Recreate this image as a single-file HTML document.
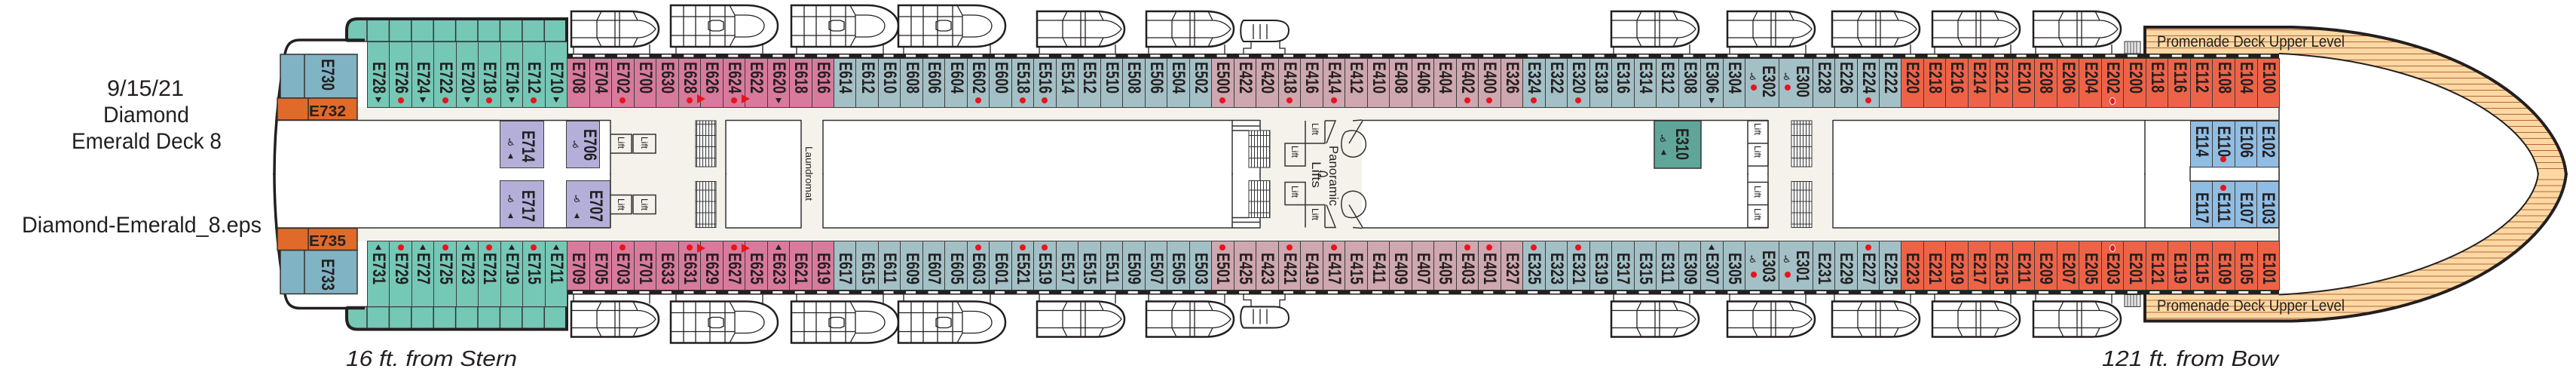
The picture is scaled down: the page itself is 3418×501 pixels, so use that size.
<!DOCTYPE html>
<html><head><meta charset="utf-8"><style>
body{margin:0;width:3418px;height:501px;background:#fff;position:relative;overflow:hidden;font-family:"Liberation Sans",sans-serif}
svg{position:absolute;left:0;top:0}
.r{position:absolute;display:flex;border:1.5px solid #3d3d3d;box-sizing:border-box}
.c{flex:1;position:relative;border-left:1.5px solid #3d3d3d}
.c:first-child{border-left:0}
.c i,.v{position:absolute;left:50%;top:4px;margin-left:-10px;display:block;writing-mode:vertical-rl;font:bold 20px/20px "Liberation Sans",sans-serif;font-style:normal;color:#231f20;transform:scale(1.18,.9);transform-origin:center top;white-space:nowrap}
.T .c i{top:26px}
.B .c i{top:15px}
.d{position:absolute;left:50%;margin-left:-4px;width:8px;height:8px;border-radius:50%;background:#e8141b;top:51px}
.T .d{top:73px}
.B .d{top:4px}
.t{position:absolute;left:50%;margin-left:-4px;top:52px;width:0;height:0;border-left:4px solid transparent;border-right:4px solid transparent;border-top:7px solid #231f20}
.T .t{top:73px}
.B .t{top:4px;border-top:0;border-bottom:7px solid #231f20}
.rt{position:absolute;right:-7px;top:47px;width:0;height:0;border-top:6px solid transparent;border-bottom:6px solid transparent;border-left:11px solid #e8141b;z-index:2}
.B .rt{top:3px}
.w{position:absolute;font:13px/13px "DejaVu Sans",sans-serif;color:#231f20}
.teal{background:#75c7b6}.pink{background:#d87a9c}.grey{background:#a3c0c6}.mauve{background:#cea7b0}.red{background:#ee6348}.blue{background:#90bde3}.purp{background:#b4afd9}
</style></head><body>
<svg width="3418" height="501" viewBox="0 0 3418 501">
<defs>
<pattern id="win" x="752" y="71" width="29.47" height="6" patternUnits="userSpaceOnUse"><rect width="29.47" height="6" fill="#231f20"/><rect x="8" y="1.5" width="13" height="3" fill="#fff"/></pattern>
<pattern id="pr" width="10" height="8" patternUnits="userSpaceOnUse"><rect width="10" height="8" fill="#fdd8a3"/><rect y="7" width="10" height="1" fill="#b0683a"/></pattern>
<pattern id="st" width="4" height="15" patternUnits="userSpaceOnUse"><rect width="4" height="15" fill="#fff"/><rect width="1" height="15" fill="#333"/><rect y="14" width="4" height="1" fill="#333"/></pattern>
<g id="lb" fill="none" stroke="#231f20" stroke-width="1.3">
<path d="M0,0 H78 C105,0 116,12 116,23.5 C116,35 105,47 78,47 H0 Z" fill="#fff" stroke-width="2.5"/>
<path d="M0,12 H34 M0,35 H34 M34,12 V35 M34,12 L40,0 M34,35 L40,47 M34,12 H88 C100,12 108,18 112,23.5 C108,29 100,35 88,35 H34 M58,0 V47 M64,0 V47 M82,0 L88,12 M82,47 L88,35 M3,47 V56 M104,44 V56"/>
</g>
<g id="tb" fill="none" stroke="#231f20" stroke-width="1.3">
<path d="M0,0 H100 C128,0 142,14 142,27 C142,42 128,55 100,55 H0 Z" fill="#fff" stroke-width="2.5"/>
<path d="M0,15 H85 M0,40 H85 M17,0 V55 M33,0 V55 M52,0 V55 M72,0 V55 M85,13 V42 M85,13 H100 C115,13 124,20 124,27 C124,35 115,42 100,42 H85 M78,0 L85,13 M78,55 L85,42 M50,22 L55,20 H65 L70,22 V32 L65,34 H55 L50,32 Z M7,55 V64 M122,50 V64"/>
</g>
</defs>
<g id="h">
<rect x="474" y="142" width="2550" height="17" fill="#f5f2ec"/>
<line x1="365" y1="159.5" x2="3024" y2="159.5" stroke="#333" stroke-width="1.5"/>
<rect x="810" y="142" width="153" height="90" fill="#f5f2ec"/>
<rect x="1063" y="142" width="29" height="90" fill="#f5f2ec"/>
<rect x="1672" y="142" width="135" height="90" fill="#f5f2ec"/>
<rect x="2346" y="142" width="86" height="90" fill="#f5f2ec"/>
<path d="M810,159 V232 M963,159 V232 M1063,159 V232 M1092,159 V232 M1635,159 V232 M1672,159 V232 M2319,159 V232 M2346,159 V232 M2432,159 V232 M2846,159 V232 M3024,77 V232" stroke="#333" stroke-width="1.5" fill="none"/>
<rect x="923" y="160" width="27" height="61" fill="url(#st)" stroke="#333"/>
<rect x="1657" y="173" width="28" height="49" fill="url(#st)" stroke="#333"/>
<rect x="2377" y="160" width="27" height="61" fill="url(#st)" stroke="#333"/>
<path d="M1635,167 H1672 M1635,173 H1657" stroke="#333" stroke-width="1.5"/>
<g fill="none" stroke="#333" stroke-width="1.5">
<path d="M810,178 H838 V203 H810 M840,178 H870 V203 H840 V178"/>
<path d="M1732,160 V190 H1758 V160 M1705,190 H1732 V220 H1705 Z M1758,160 L1772,160 L1760,190"/>
<path d="M2319,160 H2346 V190 H2319 M2319,190 H2346 V220 H2319"/>
<path d="M1795,160 L1807,159 M1808,160 L1790,190 M1785,175 C1800,168 1815,180 1812,195 C1808,210 1790,212 1782,202 C1778,192 1780,180 1785,175 Z M1750,228 C1758,226 1764,230 1760,232"/>
</g>
<path d="M752,25 H474 Q460,25 460,40 V55 H752 Z" fill="#75c7b6"/>
<path d="M487,25 V55 M516.4,25 V55 M545.8,25 V55 M575.2,25 V55 M604.6,25 V55 M634,25 V55 M663.4,25 V55 M692.8,25 V55 M722.2,25 V55 M460,55 H752" stroke="#333" stroke-width="1.5"/>
<path d="M460,55 V40 Q460,25 474,25 H752 V77" stroke="#231f20" stroke-width="4" fill="none"/>
<path d="M484,53 H398 C385,53 380,60 378,72 C368,130 364,180 364,232" stroke="#231f20" stroke-width="3.5" fill="none"/>
<rect x="372" y="72" width="102" height="58" fill="#80b3c3" stroke="#333" stroke-width="1.5"/>
<line x1="404" y1="72" x2="404" y2="130" stroke="#333" stroke-width="1.5"/>
<rect x="368" y="130" width="106" height="29" fill="#e06a2a" stroke="#333" stroke-width="1.5"/>
<line x1="409" y1="130" x2="409" y2="159" stroke="#333" stroke-width="1.5"/>
<rect x="752" y="71" width="2272" height="6" fill="url(#win)"/>
<use href="#lb" x="758" y="15"/>
<use href="#tb" x="890" y="7"/>
<use href="#tb" x="1050" y="7"/>
<use href="#tb" x="1192" y="7"/>
<use href="#lb" x="1376" y="15"/>
<use href="#lb" x="1521" y="15"/>
<g fill="#fff" stroke="#231f20" stroke-width="2">
<path d="M1650,27 H1690 C1705,27 1710,33 1710,40 C1710,48 1705,55 1690,55 H1650 C1645,50 1645,32 1650,27 Z"/>
<path d="M1663,32 V52 M1672,32 V52 M1681,32 V52 M1660,55 V64 H1650 V71 M1698,55 V64 H1705 V71" fill="none" stroke-width="1.3"/>
</g>
<use href="#lb" x="2138" y="15"/>
<use href="#lb" x="2292" y="15"/>
<use href="#lb" x="2431" y="15"/>
<use href="#lb" x="2564" y="15"/>
<use href="#lb" x="2698" y="15"/>
<rect x="2819" y="55" width="21" height="16" fill="#e6e6e6" stroke="#333"/>
<path d="M2823,55 V71 M2827,55 V71 M2831,55 V71 M2835,55 V71" stroke="#555"/>
<path d="M2846,36 H3040 C3270,42 3398,150 3405,231 L3368,231 C3360,160 3220,80 3024,71 H2846 Z" fill="url(#pr)"/>
<path d="M2846,71 V36 H3040 C3270,42 3398,150 3405,232" fill="none" stroke="#231f20" stroke-width="4"/>
<path d="M3024,71 C3220,80 3360,160 3368,232" fill="none" stroke="#231f20" stroke-width="2"/>
</g>
<use href="#h" transform="matrix(1,0,0,-1,0,461.5)"/>
<rect x="2195" y="160" width="62" height="63" fill="#5fa699" stroke="#333" stroke-width="1.5"/>
<rect x="2906" y="221" width="118" height="19" fill="#fff" stroke="#333" stroke-width="1.5"/>
<g font-family="Liberation Sans, sans-serif" fill="#231f20">
<text x="142" y="127" font-size="30" textLength="102" lengthAdjust="spacingAndGlyphs">9/15/21</text>
<text x="137" y="162" font-size="30" textLength="114" lengthAdjust="spacingAndGlyphs">Diamond</text>
<text x="95" y="197" font-size="30" textLength="199" lengthAdjust="spacingAndGlyphs">Emerald Deck 8</text>
<text x="29" y="308" font-size="30" textLength="318" lengthAdjust="spacingAndGlyphs">Diamond-Emerald_8.eps</text>
<text x="459" y="485" font-size="29" font-style="italic" textLength="227" lengthAdjust="spacingAndGlyphs">16 ft.  from Stern</text>
<text x="2789" y="485" font-size="29" font-style="italic" textLength="234" lengthAdjust="spacingAndGlyphs">121 ft.  from Bow</text>
<text x="2862" y="62" font-size="21" textLength="249" lengthAdjust="spacingAndGlyphs">Promenade Deck Upper Level</text>
<text x="2862" y="412" font-size="21" textLength="249" lengthAdjust="spacingAndGlyphs">Promenade Deck Upper Level</text>
<text x="410" y="154" font-size="20" font-weight="bold" textLength="49" lengthAdjust="spacingAndGlyphs">E732</text>
<text x="410" y="326" font-size="20" font-weight="bold" textLength="49" lengthAdjust="spacingAndGlyphs">E735</text>
<text transform="translate(1069,194) rotate(90)" font-size="13" textLength="72" lengthAdjust="spacingAndGlyphs">Laundromat</text>
<text transform="translate(1764,193) rotate(90)" font-size="17" textLength="80" lengthAdjust="spacingAndGlyphs">Panoramic</text>
<text transform="translate(1741,214) rotate(90)" font-size="17" textLength="35" lengthAdjust="spacingAndGlyphs">Lifts</text>
<g font-size="12">
<text transform="translate(820,181) rotate(90)">Lift</text>
<text transform="translate(851,181) rotate(90)">Lift</text>
<text transform="translate(820,263) rotate(90)">Lift</text>
<text transform="translate(851,263) rotate(90)">Lift</text>
<text transform="translate(1741,163) rotate(90)">Lift</text>
<text transform="translate(1714,193) rotate(90)">Lift</text>
<text transform="translate(1714,246) rotate(90)">Lift</text>
<text transform="translate(1741,276) rotate(90)">Lift</text>
<text transform="translate(2328,163) rotate(90)">Lift</text>
<text transform="translate(2328,193) rotate(90)">Lift</text>
<text transform="translate(2328,246) rotate(90)">Lift</text>
<text transform="translate(2328,276) rotate(90)">Lift</text>
</g>
</g>
</svg>

<span class="v" style="left:434px;top:78px">E730</span>
<span class="v" style="left:434px;top:343px">E733</span>

<div class="r purp" style="left:663px;top:160px;width:59px;height:63px"><span class="v" style="left:36px;top:12px">E714</span><span class="w" style="left:8px;top:22px">♿</span><span class="w" style="left:10px;top:40px;font-size:9px">▲</span></div>
<div class="r purp" style="left:751px;top:160px;width:45px;height:63px"><span class="v" style="left:30px;top:10px">E706</span><span class="w" style="left:6px;top:25px">♿</span></div>
<div class="r purp" style="left:663px;top:239px;width:59px;height:63px"><span class="v" style="left:36px;top:12px">E717</span><span class="w" style="left:8px;top:18px">♿</span><span class="w" style="left:10px;top:40px;font-size:9px">▲</span></div>
<div class="r purp" style="left:751px;top:239px;width:59px;height:63px"><span class="v" style="left:38px;top:12px">E707</span><span class="w" style="left:8px;top:18px">♿</span><span class="w" style="left:10px;top:40px;font-size:9px">▲</span></div>
<span class="v" style="left:2231px;top:170px">E310</span><span class="w" style="left:2201px;top:178px">♿</span><span class="w" style="left:2204px;top:196px;font-size:9px">▲</span>

<div class="r blue" style="left:2906px;top:160px;width:118px;height:62px"><div class="c"><i style="top:6px">E114</i></div><div class="c"><i style="top:6px">E110</i><b class="d" style="top:46px"></b></div><div class="c"><i style="top:6px">E106</i></div><div class="c"><i style="top:6px">E102</i></div></div>
<div class="r blue" style="left:2906px;top:240px;width:118px;height:62px"><div class="c"><i style="top:14px">E117</i></div><div class="c"><i style="top:14px">E111</i><b class="d" style="top:4px"></b></div><div class="c"><i style="top:14px">E107</i></div><div class="c"><i style="top:14px">E103</i></div></div>

<div class="r T teal" style="left:487px;top:55px;width:266px;height:88px"><div class="c"><i>E728</i><b class="t"></b></div><div class="c"><i>E726</i><b class="d"></b></div><div class="c"><i>E724</i><b class="t"></b></div><div class="c"><i>E722</i><b class="d"></b></div><div class="c"><i>E720</i><b class="t"></b></div><div class="c"><i>E718</i><b class="d"></b></div><div class="c"><i>E716</i><b class="t"></b></div><div class="c"><i>E712</i><b class="d"></b></div><div class="c"><i>E710</i><b class="t"></b></div></div>
<div class="r pink" style="left:752px;top:77px;width:355px;height:66px"><div class="c"><i>E708</i></div><div class="c"><i>E704</i></div><div class="c"><i>E702</i><b class="d"></b></div><div class="c"><i>E700</i></div><div class="c"><i>E630</i></div><div class="c"><i>E628</i><b class="d"></b><b class="rt"></b></div><div class="c"><i>E626</i></div><div class="c"><i>E624</i><b class="d"></b><b class="rt"></b></div><div class="c"><i>E622</i></div><div class="c"><i>E620</i><b class="t"></b></div><div class="c"><i>E618</i></div><div class="c"><i>E616</i></div></div>
<div class="r grey" style="left:1106px;top:77px;width:502px;height:66px"><div class="c"><i>E614</i></div><div class="c"><i>E612</i></div><div class="c"><i>E610</i></div><div class="c"><i>E608</i></div><div class="c"><i>E606</i></div><div class="c"><i>E604</i></div><div class="c"><i>E602</i><b class="d"></b></div><div class="c"><i>E600</i></div><div class="c"><i>E518</i><b class="d"></b></div><div class="c"><i>E516</i><b class="d"></b></div><div class="c"><i>E514</i></div><div class="c"><i>E512</i></div><div class="c"><i>E510</i></div><div class="c"><i>E508</i></div><div class="c"><i>E506</i></div><div class="c"><i>E504</i></div><div class="c"><i>E502</i></div></div>
<div class="r mauve" style="left:1607px;top:77px;width:414px;height:66px"><div class="c"><i>E500</i><b class="d"></b></div><div class="c"><i>E422</i></div><div class="c"><i>E420</i></div><div class="c"><i>E418</i><b class="d"></b></div><div class="c"><i>E416</i></div><div class="c"><i>E414</i><b class="d"></b></div><div class="c"><i>E412</i></div><div class="c"><i>E410</i></div><div class="c"><i>E408</i></div><div class="c"><i>E406</i></div><div class="c"><i>E404</i></div><div class="c"><i>E402</i><b class="d"></b></div><div class="c"><i>E400</i><b class="d"></b></div><div class="c"><i>E326</i></div></div>
<div class="r grey" style="left:2020px;top:77px;width:296px;height:66px"><div class="c"><i>E324</i><b class="d"></b></div><div class="c"><i>E322</i></div><div class="c"><i>E320</i><b class="d"></b></div><div class="c"><i>E318</i></div><div class="c"><i>E316</i></div><div class="c"><i>E314</i></div><div class="c"><i>E312</i></div><div class="c"><i>E308</i></div><div class="c"><i>E306</i><b class="t"></b></div><div class="c"><i>E304</i></div></div>
<div class="r grey" style="left:2315px;top:77px;width:91px;height:66px"><div class="c"><i style="left:68%;top:9px">E302</i><span class="w" style="left:4px;top:18px">♿</span><b class="d" style="left:25%;top:34px"></b></div><div class="c"><i style="left:68%;top:9px">E300</i><span class="w" style="left:4px;top:18px">♿</span><b class="d" style="left:25%;top:34px"></b></div></div>
<div class="r grey" style="left:2405px;top:77px;width:118px;height:66px"><div class="c"><i>E228</i></div><div class="c"><i>E226</i></div><div class="c"><i>E224</i><b class="d"></b></div><div class="c"><i>E222</i></div></div>
<div class="r red" style="left:2522px;top:77px;width:503px;height:66px"><div class="c"><i>E220</i></div><div class="c"><i>E218</i></div><div class="c"><i>E216</i></div><div class="c"><i>E214</i></div><div class="c"><i>E212</i></div><div class="c"><i>E210</i></div><div class="c"><i>E208</i></div><div class="c"><i>E206</i></div><div class="c"><i>E204</i></div><div class="c"><i>E202</i><b class="d" style="border:1px solid #fff;width:6px"></b></div><div class="c"><i>E200</i></div><div class="c"><i>E118</i></div><div class="c"><i>E116</i></div><div class="c"><i>E112</i></div><div class="c"><i>E108</i></div><div class="c"><i>E104</i></div><div class="c"><i>E100</i></div></div>

<div class="r B teal" style="left:487px;top:319px;width:266px;height:88px"><div class="c"><i>E731</i><b class="t"></b></div><div class="c"><i>E729</i><b class="d"></b></div><div class="c"><i>E727</i><b class="t"></b></div><div class="c"><i>E725</i><b class="d"></b></div><div class="c"><i>E723</i><b class="t"></b></div><div class="c"><i>E721</i><b class="d"></b></div><div class="c"><i>E719</i><b class="t"></b></div><div class="c"><i>E715</i><b class="d"></b></div><div class="c"><i>E711</i><b class="t"></b></div></div>
<div class="r B pink" style="left:752px;top:319px;width:355px;height:66px"><div class="c"><i>E709</i></div><div class="c"><i>E705</i></div><div class="c"><i>E703</i><b class="d"></b></div><div class="c"><i>E701</i></div><div class="c"><i>E633</i></div><div class="c"><i>E631</i><b class="d"></b><b class="rt"></b></div><div class="c"><i>E629</i></div><div class="c"><i>E627</i><b class="d"></b><b class="rt"></b></div><div class="c"><i>E625</i></div><div class="c"><i>E623</i><b class="t"></b></div><div class="c"><i>E621</i></div><div class="c"><i>E619</i></div></div>
<div class="r B grey" style="left:1106px;top:319px;width:502px;height:66px"><div class="c"><i>E617</i></div><div class="c"><i>E615</i></div><div class="c"><i>E611</i></div><div class="c"><i>E609</i></div><div class="c"><i>E607</i></div><div class="c"><i>E605</i></div><div class="c"><i>E603</i><b class="d"></b></div><div class="c"><i>E601</i></div><div class="c"><i>E521</i><b class="d"></b></div><div class="c"><i>E519</i><b class="d"></b></div><div class="c"><i>E517</i></div><div class="c"><i>E515</i></div><div class="c"><i>E511</i></div><div class="c"><i>E509</i></div><div class="c"><i>E507</i></div><div class="c"><i>E505</i></div><div class="c"><i>E503</i></div></div>
<div class="r B mauve" style="left:1607px;top:319px;width:414px;height:66px"><div class="c"><i>E501</i><b class="d"></b></div><div class="c"><i>E425</i></div><div class="c"><i>E423</i></div><div class="c"><i>E421</i><b class="d"></b></div><div class="c"><i>E419</i></div><div class="c"><i>E417</i><b class="d"></b></div><div class="c"><i>E415</i></div><div class="c"><i>E411</i></div><div class="c"><i>E409</i></div><div class="c"><i>E407</i></div><div class="c"><i>E405</i></div><div class="c"><i>E403</i><b class="d"></b></div><div class="c"><i>E401</i><b class="d"></b></div><div class="c"><i>E327</i></div></div>
<div class="r B grey" style="left:2020px;top:319px;width:296px;height:66px"><div class="c"><i>E325</i><b class="d"></b></div><div class="c"><i>E323</i></div><div class="c"><i>E321</i><b class="d"></b></div><div class="c"><i>E319</i></div><div class="c"><i>E317</i></div><div class="c"><i>E315</i></div><div class="c"><i>E311</i></div><div class="c"><i>E309</i></div><div class="c"><i>E307</i><b class="t"></b></div><div class="c"><i>E305</i></div></div>
<div class="r B grey" style="left:2315px;top:319px;width:91px;height:66px"><div class="c"><i style="left:68%;top:12px">E303</i><span class="w" style="left:4px;top:18px">♿</span><b class="d" style="left:25%;top:40px"></b></div><div class="c"><i style="left:68%;top:12px">E301</i><span class="w" style="left:4px;top:18px">♿</span><b class="d" style="left:25%;top:40px"></b></div></div>
<div class="r B grey" style="left:2405px;top:319px;width:118px;height:66px"><div class="c"><i>E231</i></div><div class="c"><i>E229</i></div><div class="c"><i>E227</i><b class="d"></b></div><div class="c"><i>E225</i></div></div>
<div class="r B red" style="left:2522px;top:319px;width:503px;height:66px"><div class="c"><i>E223</i></div><div class="c"><i>E221</i></div><div class="c"><i>E219</i></div><div class="c"><i>E217</i></div><div class="c"><i>E215</i></div><div class="c"><i>E211</i></div><div class="c"><i>E209</i></div><div class="c"><i>E207</i></div><div class="c"><i>E205</i></div><div class="c"><i>E203</i><b class="d" style="border:1px solid #fff;width:6px"></b></div><div class="c"><i>E201</i></div><div class="c"><i>E121</i></div><div class="c"><i>E119</i></div><div class="c"><i>E115</i></div><div class="c"><i>E109</i></div><div class="c"><i>E105</i></div><div class="c"><i>E101</i></div></div>
</body></html>
